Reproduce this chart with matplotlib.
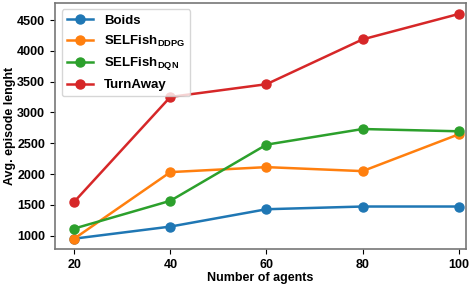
import matplotlib
matplotlib.use("Agg")
import matplotlib.pyplot as plt

plt.rcParams['font.family'] = ['Liberation Sans', 'DejaVu Sans']
plt.rcParams['font.weight'] = 'bold'
plt.rcParams['mathtext.fontset'] = 'custom'
plt.rcParams['mathtext.bf'] = 'Liberation Sans:bold'
plt.rcParams['mathtext.rm'] = 'Liberation Sans'
plt.rcParams['mathtext.default'] = 'bf'

agents = [20, 40, 60, 80, 100]
boids = [950, 1146, 1428, 1472, 1472]
selfish_ddpg = [950, 2031, 2112, 2047, 2645]
selfish_dqn = [1114, 1565, 2477, 2731, 2694]
turnaway = [1549, 3252, 3459, 4187, 4600]

labels = ['Boids', r'SELFish$_{\mathbf{DDPG}}$', r'SELFish$_{\mathbf{DQN}}$', 'TurnAway']
colors = ['#1f77b4', '#ff7f0e', '#2ca02c', '#d62728']

fig, ax = plt.subplots(figsize=(4.74, 2.88), dpi=100)
for ys, lab, c in zip([boids, selfish_ddpg, selfish_dqn, turnaway], labels, colors):
    ax.plot(agents, ys, marker='o', markersize=6.5, linewidth=1.8, color=c, label=lab)

ax.set_xticks(agents)
ax.set_yticks([1000, 1500, 2000, 2500, 3000, 3500, 4000, 4500])
ax.set_ylim(780, 4780)
ax.set_xlim(16, 101.5)
ax.tick_params(labelsize=9)
for lab in ax.get_xticklabels() + ax.get_yticklabels():
    lab.set_fontweight('bold')
for s in ax.spines.values():
    s.set_color('#777777')
    s.set_linewidth(1.2)
ax.set_xlabel('Number of agents', fontsize=9, fontweight='bold', labelpad=1)
ax.set_ylabel('Avg. episode lenght', fontsize=9, fontweight='bold', labelpad=1)
ax.legend(loc='upper left', prop={'weight': 'bold', 'size': 9.5})
fig.subplots_adjust(left=0.116, right=0.983, top=0.99, bottom=0.135)
fig.savefig('out.png')
